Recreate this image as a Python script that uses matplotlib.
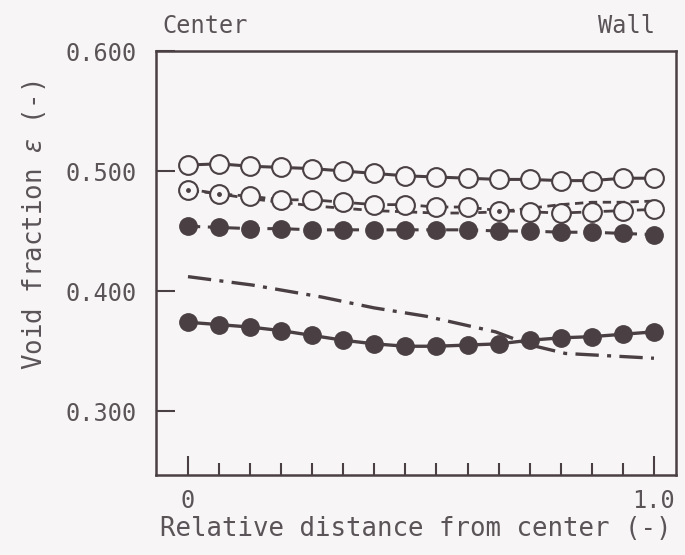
import numpy as np
import matplotlib
matplotlib.use("Agg")
import matplotlib.pyplot as plt
from matplotlib.ticker import FixedLocator

# relative distance from center, 16 measuring points
x_pts = [0.0, 0.0667, 0.1333, 0.2, 0.2667, 0.3333, 0.4, 0.4667,
         0.5333, 0.6, 0.6667, 0.7333, 0.8, 0.8667, 0.9333, 1.0]

open_solid = [0.505, 0.506, 0.504, 0.503, 0.502, 0.500, 0.498, 0.496,
              0.495, 0.494, 0.493, 0.493, 0.492, 0.492, 0.494, 0.494]
open_dashed = [0.484, 0.481, 0.479, 0.476, 0.476, 0.474, 0.472, 0.472,
               0.470, 0.470, 0.467, 0.466, 0.465, 0.466, 0.467, 0.468]
dotted = [0.485, 0.481, 0.477, 0.474, 0.471, 0.469, 0.467, 0.466,
          0.465, 0.465, 0.466, 0.469, 0.472, 0.474, 0.474, 0.475]
filled_dashed = [0.454, 0.453, 0.452, 0.452, 0.451, 0.451, 0.451, 0.451,
                 0.451, 0.451, 0.450, 0.450, 0.449, 0.449, 0.448, 0.447]
filled_solid = [0.374, 0.372, 0.370, 0.367, 0.363, 0.359, 0.356, 0.354,
                0.354, 0.355, 0.356, 0.359, 0.361, 0.362, 0.364, 0.366]

# dash-dot curve (no markers)
dd_x = [0.0, 0.138, 0.287, 0.399, 0.511, 0.660, 0.735, 0.81, 1.0]
dd_y = [0.412, 0.405, 0.395, 0.386, 0.379, 0.366, 0.355, 0.348, 0.344]

y_ticks = [0.300, 0.400, 0.500, 0.600]
y_ticklabels = ["0.300", "0.400", "0.500", "0.600"]

INK = "#4a4044"
TXT = "#5a5357"
BG = "#f7f5f6"

plt.rcParams["font.family"] = ["DejaVu Sans Mono"]

fig = plt.figure(figsize=(6.85, 5.55), dpi=100, facecolor=BG)
ax = fig.add_axes([0.2277, 0.1441, 0.7591, 0.764], facecolor=BG)

ax.plot(dd_x, dd_y, color=INK, lw=2.4, dashes=(7, 2.5, 1.2, 2.5), zorder=2)
ax.plot(x_pts, dotted, color=INK, lw=2.0, dashes=(3, 2), zorder=2)
ax.plot(x_pts, open_dashed, color=INK, lw=2.0, dashes=(4, 2), marker="o",
        ms=13.5, mfc=BG, mec=INK, mew=1.5, zorder=3)
ax.plot([x_pts[i] for i in (0, 1, 10)], [open_dashed[i] for i in (0, 1, 10)],
        ls="none", marker="o", ms=2.5, color=INK, zorder=4)
ax.plot(x_pts, open_solid, color=INK, lw=2.2, marker="o",
        ms=13.5, mfc=BG, mec=INK, mew=1.5, zorder=3)
ax.plot(x_pts, filled_dashed, color=INK, lw=2.2, dashes=(4, 2.5), marker="o",
        ms=12.5, mfc=INK, mec=INK, zorder=3)
ax.plot(x_pts, filled_solid, color=INK, lw=2.4, marker="o",
        ms=12.5, mfc=INK, mec=INK, zorder=3)

ax.set_xlim(-0.0687, 1.0472)
ax.set_ylim(0.2467, 0.600)

for s in ax.spines.values():
    s.set_color(INK)
    s.set_linewidth(1.8)

ax.set_yticks(y_ticks)
ax.set_yticklabels(y_ticklabels)
ax.set_xticks([0.0, 1.0])
ax.set_xticklabels(["0", "1.0"])
ax.xaxis.set_minor_locator(FixedLocator(x_pts))
ax.tick_params(axis="y", direction="in", length=14, width=1.5, color=INK,
               labelsize=17, labelcolor=TXT, pad=14)
ax.tick_params(axis="x", which="major", direction="in", length=14, width=1.5,
               color=INK, labelsize=17, labelcolor=TXT, pad=10)
ax.tick_params(axis="x", which="minor", direction="in", length=9, width=1.5,
               color=INK)

ax.set_xlabel("Relative distance from center (-)", fontsize=18.5, color=TXT,
              labelpad=2)
ax.set_ylabel("Void fraction $\\varepsilon$ (-)", fontsize=18.5, color=TXT)
ax.yaxis.set_label_coords(-0.207, 0.59)

ax.text(0.012, 1.03, "Center", transform=ax.transAxes, ha="left", va="bottom",
        fontsize=17, color=TXT)
ax.text(0.96, 1.03, "Wall", transform=ax.transAxes, ha="right", va="bottom",
        fontsize=17, color=TXT)

fig.savefig("out.png", dpi=100, facecolor=BG)
